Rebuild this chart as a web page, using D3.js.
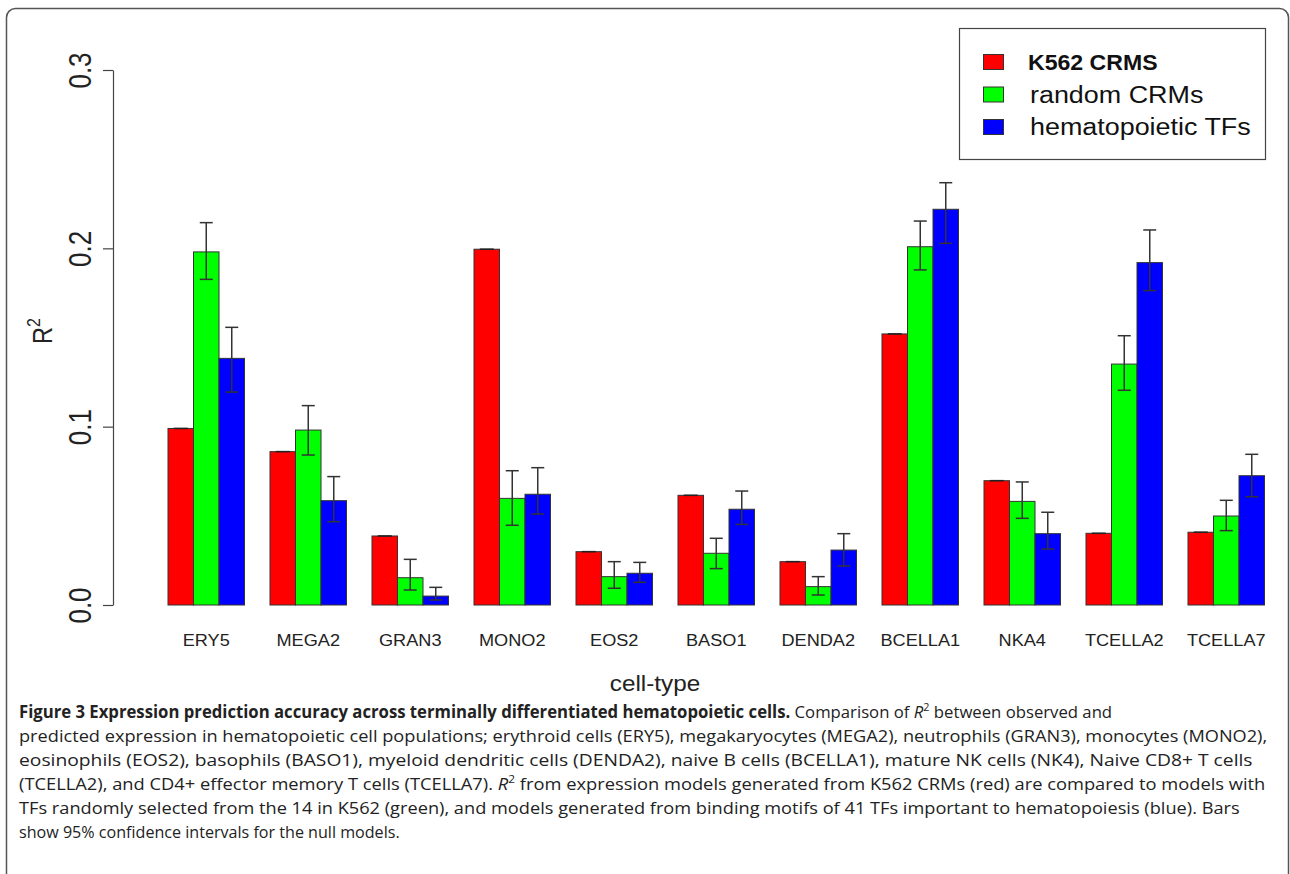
<!DOCTYPE html>
<html lang="en">
<head>
  <meta charset="utf-8">
  <title>Figure 3</title>
  <style>
    body { margin: 0; background: white; }
    svg { display: block; }
  </style>
</head>
<body>

<div id="my_dataviz"></div>

<script src="https://d3js.org/d3.v7.min.js"></script>

<script>

    // cell types along the x axis
    var cellTypes = ["ERY5", "MEGA2", "GRAN3", "MONO2", "EOS2", "BASO1", "DENDA2", "BCELLA1", "NKA4", "TCELLA2", "TCELLA7"]

    // legend names
    var seriesNames = ["K562 CRMS", "random CRMs", "hematopoietic TFs"]

    // R^2 values
    var k562 = [0.099, 0.086, 0.0387, 0.1995, 0.0299, 0.0615, 0.0243, 0.152, 0.0697, 0.0402, 0.0408]
    var randomCRMs = [0.198, 0.0981, 0.0153, 0.0598, 0.0159, 0.029, 0.0103, 0.2009, 0.0581, 0.1351, 0.0499]
    var randomLo = [0.1826, 0.0841, 0.0084, 0.0447, 0.0094, 0.0204, 0.0056, 0.1879, 0.0486, 0.1204, 0.0417]
    var randomHi = [0.2144, 0.1118, 0.0256, 0.0753, 0.0243, 0.0374, 0.0159, 0.2153, 0.069, 0.151, 0.0587]
    var hemaTFs = [0.1383, 0.0585, 0.005, 0.0621, 0.0178, 0.0537, 0.0308, 0.2219, 0.04, 0.192, 0.0725]
    var hemaLo = [0.1194, 0.0467, 0.0028, 0.051, 0.0127, 0.0452, 0.0219, 0.2028, 0.0314, 0.1763, 0.0607]
    var hemaHi = [0.1557, 0.072, 0.0099, 0.077, 0.0239, 0.0639, 0.04, 0.2368, 0.052, 0.2103, 0.0845]

    // y tick values
    var yTicks = [0, 0.1, 0.2, 0.3]

    // caption lines (bold / italic / superscript pieces)
    var captionLines = [
      [["b", "Figure 3 Expression prediction accuracy across terminally differentiated hematopoietic cells."], ["n", " Comparison of "], ["i", "R"], ["s", "2"], ["n", " between observed and"]],
      [["n", "predicted expression in hematopoietic cell populations; erythroid cells (ERY5), megakaryocytes (MEGA2), neutrophils (GRAN3), monocytes (MONO2),"]],
      [["n", "eosinophils (EOS2), basophils (BASO1), myeloid dendritic cells (DENDA2), naive B cells (BCELLA1), mature NK cells (NK4), Naive CD8+ T cells"]],
      [["n", "(TCELLA2), and CD4+ effector memory T cells (TCELLA7). "], ["i", "R"], ["s", "2"], ["n", " from expression models generated from K562 CRMs (red) are compared to models with"]],
      [["n", "TFs randomly selected from the 14 in K562 (green), and models generated from binding motifs of 41 TFs important to hematopoiesis (blue). Bars"]],
      [["n", "show 95% confidence intervals for the null models."]]
    ]
    var captionWidths = [1094, 1249, 1234, 1247, 1221, 381]

    var width = 1290
    var height = 874

    var svg = d3.select("#my_dataviz")
      .append("svg")
        .attr("width", width)
        .attr("height", height)

    // figure frame (runs off the bottom of the page)
    svg.append("rect")
      .attr("x", 6.5).attr("y", 8.5)
      .attr("width", 1282).attr("height", 920)
      .attr("rx", 9)
      .attr("fill", "none")
      .attr("stroke", "#555")
      .attr("stroke-width", 1.5)

    var colors = ["#ff0000", "#00ff00", "#0000ff"]

    // group scale and inner scale, like R barplot(beside=TRUE)
    var x0 = d3.scaleBand()
      .domain(cellTypes)
      .range([168, 1264.5])
      .paddingInner(0.25)
      .paddingOuter(0)

    var x1 = d3.scaleBand()
      .domain(seriesNames)
      .range([0, x0.bandwidth()])

    var y = d3.scaleLinear()
      .domain([0, 0.3])
      .range([605, 70])

    var font = "'Liberation Sans', Arial, Helvetica, sans-serif"

    // build rows
    var rows = []
    var values = [k562, randomCRMs, hemaTFs]
    var los = [null, randomLo, hemaLo]
    var his = [null, randomHi, hemaHi]
    cellTypes.forEach(function(c, i){
      seriesNames.forEach(function(s, j){
        rows.push({cell: c, series: s, j: j, value: values[j][i],
                   lo: los[j] ? los[j][i] : null, hi: his[j] ? his[j][i] : null})
      })
    })

    // bars
    svg.append("g")
      .selectAll("rect")
      .data(rows)
      .enter()
      .append("rect")
        .attr("x", function(d){ return x0(d.cell) + x1(d.series) })
        .attr("y", function(d){ return y(d.value) })
        .attr("width", x1.bandwidth())
        .attr("height", function(d){ return y(0) - y(d.value) })
        .attr("fill", function(d){ return colors[d.j] })
        .attr("stroke", "#333")
        .attr("stroke-width", 1)

    // zero-width caps on the K562 bars
    svg.append("g")
      .selectAll("line")
      .data(rows.filter(function(d){ return d.lo === null }))
      .enter()
      .append("line")
        .attr("x1", function(d){ return x0(d.cell) + x1(d.series) + x1.bandwidth() / 2 - 7 })
        .attr("x2", function(d){ return x0(d.cell) + x1(d.series) + x1.bandwidth() / 2 + 7 })
        .attr("y1", function(d){ return y(d.value) })
        .attr("y2", function(d){ return y(d.value) })
        .attr("stroke", "#222")
        .attr("stroke-width", 1.6)

    // confidence intervals
    var err = svg.append("g")
      .selectAll("g")
      .data(rows.filter(function(d){ return d.lo !== null }))
      .enter()
      .append("g")
        .attr("stroke", "#333")
        .attr("stroke-width", 1.5)
        .attr("transform", function(d){ return "translate(" + (x0(d.cell) + x1(d.series) + x1.bandwidth() / 2) + ",0)" })

    err.append("line")
      .attr("x1", 0).attr("x2", 0)
      .attr("y1", function(d){ return y(d.lo) })
      .attr("y2", function(d){ return y(d.hi) })
    err.append("line")
      .attr("x1", -6.5).attr("x2", 6.5)
      .attr("y1", function(d){ return y(d.lo) })
      .attr("y2", function(d){ return y(d.lo) })
    err.append("line")
      .attr("x1", -6.5).attr("x2", 6.5)
      .attr("y1", function(d){ return y(d.hi) })
      .attr("y2", function(d){ return y(d.hi) })

    // y axis
    var yAxis = svg.append("g")
      .attr("transform", "translate(113,0)")
      .call(d3.axisLeft(y).tickValues(yTicks).tickSize(10).tickSizeOuter(0).tickFormat(d3.format(".1f")))
    yAxis.select(".domain").attr("stroke", "#444").attr("stroke-width", 1.2)
    yAxis.selectAll(".tick line").attr("stroke", "#444").attr("stroke-width", 1.2)
    yAxis.selectAll(".tick text")
      .attr("x", null).attr("dy", null)
      .attr("text-anchor", "middle")
      .attr("transform", "translate(-22,0) scale(1.19,1) rotate(-90)")
      .style("font-family", font)
      .style("font-size", "26px")
      .attr("fill", "#222")

    // y title R^2
    var ytitle = svg.append("text")
      .attr("transform", "translate(52,331) scale(1.19,1) rotate(-90)")
      .attr("text-anchor", "middle")
      .style("font-family", font)
      .style("font-size", "23.5px")
      .attr("fill", "#222")
    ytitle.append("tspan").text("R")
    ytitle.append("tspan").attr("dy", -10).style("font-size", "16px").text("2")

    // x labels
    svg.append("g")
      .selectAll("text")
      .data(cellTypes)
      .enter()
      .append("text")
        .attr("transform", function(d){ return "translate(" + (x0(d) + x0.bandwidth() / 2) + ",646) scale(1.1,1)" })
        .attr("text-anchor", "middle")
        .style("font-family", font)
        .style("font-size", "16.5px")
        .attr("fill", "#222")
        .text(function(d){ return d })

    // x title
    svg.append("text")
      .attr("transform", "translate(655,691) scale(1.13,1)")
      .attr("text-anchor", "middle")
      .style("font-family", font)
      .style("font-size", "21.5px")
      .attr("fill", "#222")
      .text("cell-type")

    // legend
    var legend = svg.append("g")
    legend.append("rect")
      .attr("x", 959.5).attr("y", 28.5)
      .attr("width", 306).attr("height", 131)
      .attr("fill", "white")
      .attr("stroke", "#444")
      .attr("stroke-width", 1.2)

    var item = legend.selectAll("g.item")
      .data(seriesNames)
      .enter()
      .append("g")
        .attr("class", "item")
        .attr("transform", function(d, i){ return "translate(0," + (62 + i * 32.5) + ")" })
    item.append("rect")
      .attr("x", 983.5).attr("y", -7.5)
      .attr("width", 20).attr("height", 15)
      .attr("fill", function(d, i){ return colors[i] })
      .attr("stroke", "#333")
      .attr("stroke-width", 1)
    item.append("text")
      .attr("transform", function(d, i){ return "translate(" + (i == 0 ? 1028 : 1030) + ",8) scale(" + (i == 0 ? 1.05 : 1.17) + ",1)" })
      .style("font-family", font)
      .style("font-size", function(d, i){ return i == 0 ? "22px" : "23px" })
      .style("font-weight", function(d, i){ return i == 0 ? "bold" : "normal" })
      .attr("fill", "#111")
      .text(function(d){ return d })

    // caption: each line squeezed to its width with a horizontal scale
    var cap = svg.append("g")
      .style("font-family", "'Open Sans', 'Noto Sans', sans-serif")
      .style("font-size", "17px")
      .attr("fill", "#222")

    captionLines.forEach(function(parts, i){
      var t = cap.append("text")
      var shifted = false
      parts.forEach(function(p){
        var s = t.append("tspan").text(p[1])
        if (p[0] == "b") s.style("font-weight", "bold")
        if (p[0] == "i") s.style("font-style", "italic")
        if (p[0] == "s") { s.attr("dy", -7).style("font-size", "11px"); shifted = true }
        else if (shifted) { s.attr("dy", 7); shifted = false }
      })
      var natural = t.node().getComputedTextLength()
      var k = natural > 0 ? captionWidths[i] / natural : 1
      t.attr("transform", "translate(19," + (718 + i * 24) + ") scale(" + k + ",1)")
    })

</script>

</body>
</html>
